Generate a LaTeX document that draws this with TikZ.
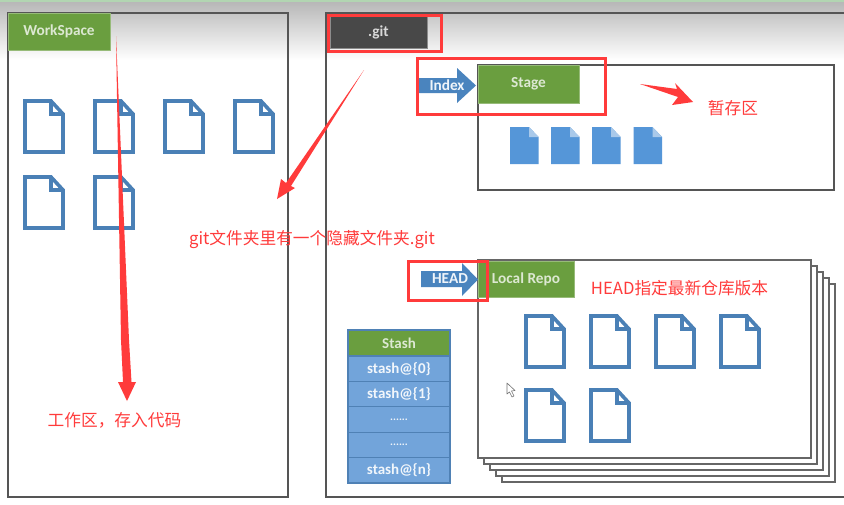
\documentclass[tikz,border=0pt]{standalone}
\usepackage{fontspec}
\usetikzlibrary{positioning}
\setmainfont{Carlito}
\newfontfamily\cjk{Noto Sans CJK SC}
\definecolor{tabgreen}{HTML}{6A9E3F}
\definecolor{tabdark}{HTML}{484848}
\definecolor{iconblue}{HTML}{4A80B6}
\definecolor{arrowblue}{HTML}{4A84BE}
\definecolor{docblue}{HTML}{5596D8}
\definecolor{docfold}{HTML}{A9C9EA}
\definecolor{stashblue}{HTML}{72A4DA}
\definecolor{stashedge}{HTML}{4F81B5}
\definecolor{markred}{HTML}{FF3B3B}
\definecolor{frameline}{HTML}{555555}
\definecolor{paletext}{HTML}{DCE8D2}
\tikzset{
  x=1pt,y=-1pt,
  frame/.style={draw=frameline,line width=1.3pt},
  sheet/.style={draw=frameline!90,line width=1.2pt,fill=white},
  tabbox/.style={fill=tabgreen,draw=tabgreen!70!white,line width=.6pt,inner sep=0pt,outer sep=0pt,
    minimum height=#1,text=paletext,font=\fontsize{15.3}{17}\selectfont\bfseries},
  tabbox/.default=37pt,
  markbox/.style={draw=markred,line width=3pt},
  note/.style={text=markred,font=\cjk\fontsize{16.7}{18}\selectfont,inner sep=0pt},
  notearrow/.style={fill=markred},
  pointer/.style={fill=arrowblue},
  ptrlabel/.style={inner sep=0pt,text=white!92!arrowblue,font=\fontsize{15.3}{17}\selectfont\bfseries},
  stashrow/.style={fill=stashblue,draw=stashedge,line width=1.2pt,minimum width=102pt,minimum height=25.4pt,
    inner sep=0pt,outer sep=0pt,text=white!90!stashblue,font=\fontsize{15}{17}\selectfont\bfseries},
  pics/outlinedoc/.style={code={
    \draw[iconblue,line width=3.6pt,line join=miter]
      (0,0) -- (26,0) -- (38,13) -- (38,51) -- (0,51) -- cycle;
    \draw[iconblue,line width=3.2pt] (26,0) -- (26,13) -- (38,13);
  }},
  pics/solidoc/.style={code={
    \fill[docblue] (0,0) -- (19,0) -- (28.5,10) -- (28.5,37) -- (0,37) -- cycle;
    \fill[docfold] (19,0) -- (28.5,10) -- (19,10) -- cycle;
  }},
}
\begin{document}
\begin{tikzpicture}
\useasboundingbox (0,0) rectangle (844,504);
\fill[white] (0,0) rectangle (844,504);
% top shade of the screenshot
\shade[top color=black!28,bottom color=white] (0,2) rectangle (844,60);
\fill[green!45!black!30!white] (0,0) rectangle (844,2);

% WorkSpace
\draw[frame] (8,13) rectangle (288,497);
\node[tabbox,minimum width=102pt,anchor=north west] (ws) at (8,13) {WorkSpace};
\foreach \px/\py in {25/101,95/101,165/101,235/101,25/177,95/177}
  \pic at (\px,\py) {outlinedoc};

% .git
\draw[frame] (844,13) -- (326,13) -- (326,497) -- (844,497);
\node[fill=tabdark,draw=black!45,line width=.6pt,minimum width=97pt,minimum height=32pt,inner sep=0pt,outer sep=0pt,
  text=white!85!black,font=\fontsize{15.3}{17}\selectfont\bfseries,anchor=north west] (git) at (330,16) {.git};

% Stage
\draw[frame] (478,65) rectangle (834,190);
\node[tabbox=38pt,minimum width=101pt,anchor=north west] (stage) at (478,65) {Stage};
\fill[pointer] (419,78) -- (457,78) -- (457,68) -- (476,85.5) -- (457,103) -- (457,93) -- (419,93) -- cycle;
\node[ptrlabel] (index) at (447,85.5) {Index};
\foreach \px in {510,551,592,633.5}
  \pic at (\px,127) {solidoc};

% Local repo stack
\foreach \d in {24,18,12,6,0}
  \draw[sheet] (478+\d,260+\d) rectangle (811+\d,458+\d);
\node[tabbox=36pt,minimum width=96pt,anchor=north west] (repo) at (478,261) {Local Repo};
\fill[pointer] (421,271) -- (462,271) -- (462,263) -- (478,279.5) -- (462,296) -- (462,287) -- (421,287) -- cycle;
\node[ptrlabel] (head) at (450,279) {HEAD};
\foreach \px in {526,591,656,721}
  \pic at (\px,316) {outlinedoc};
\foreach \px in {526,591}
  \pic at (\px,390) {outlinedoc};

% Stash
\node[stashrow,fill=tabgreen,draw=stashedge,minimum height=26pt,text=paletext,anchor=north west] (stash) at (348,330) {Stash};
\node[stashrow,below=0pt of stash] (s0) {stash@\{0\}};
\node[stashrow,below=0pt of s0] (s1) {stash@\{1\}};
\node[stashrow,below=0pt of s1] (s2) {\fontsize{11}{12}\selectfont ......};
\node[stashrow,below=0pt of s2] (s3) {\fontsize{11}{12}\selectfont ......};
\node[stashrow,below=0pt of s3] (s4) {stash@\{n\}};

% mouse cursor
\draw[fill=white,draw=black!55,line width=.6pt,line join=round]
  (507,383) -- (507,394) -- (509.5,392) -- (512,397) -- (514,396) -- (511.5,391) -- (515,390.5) -- cycle;

% red marks
\draw[markbox] (328,15) rectangle (441,51);
\draw[markbox] (417,58) rectangle (605,114);
\draw[markbox] (408,261) rectangle (487,300);
\fill[notearrow] (116,36) -- (121,340) -- (123,382) -- (118,382) -- (127,401) -- (136,382) -- (131.5,382) -- (129,340) -- cycle;
\fill[notearrow] (364,70) -- (291,186) -- (295,188) -- (277,199) -- (281,179) -- (286,183) -- cycle;
\fill[notearrow] (640,84) -- (677,89) -- (675,83) -- (693,102) -- (672,105) -- (678,97) -- cycle;
\node[note] (n1) at (733,108) {暂存区};
\node[note] (n2) at (312,240) {git文件夹里有一个隐藏文件夹.git};
\node[note] (n3) at (114.5,420) {工作区，存入代码};
\node[note] (n4) at (679.5,288) {HEAD指定最新仓库版本};
\end{tikzpicture}
\end{document}
